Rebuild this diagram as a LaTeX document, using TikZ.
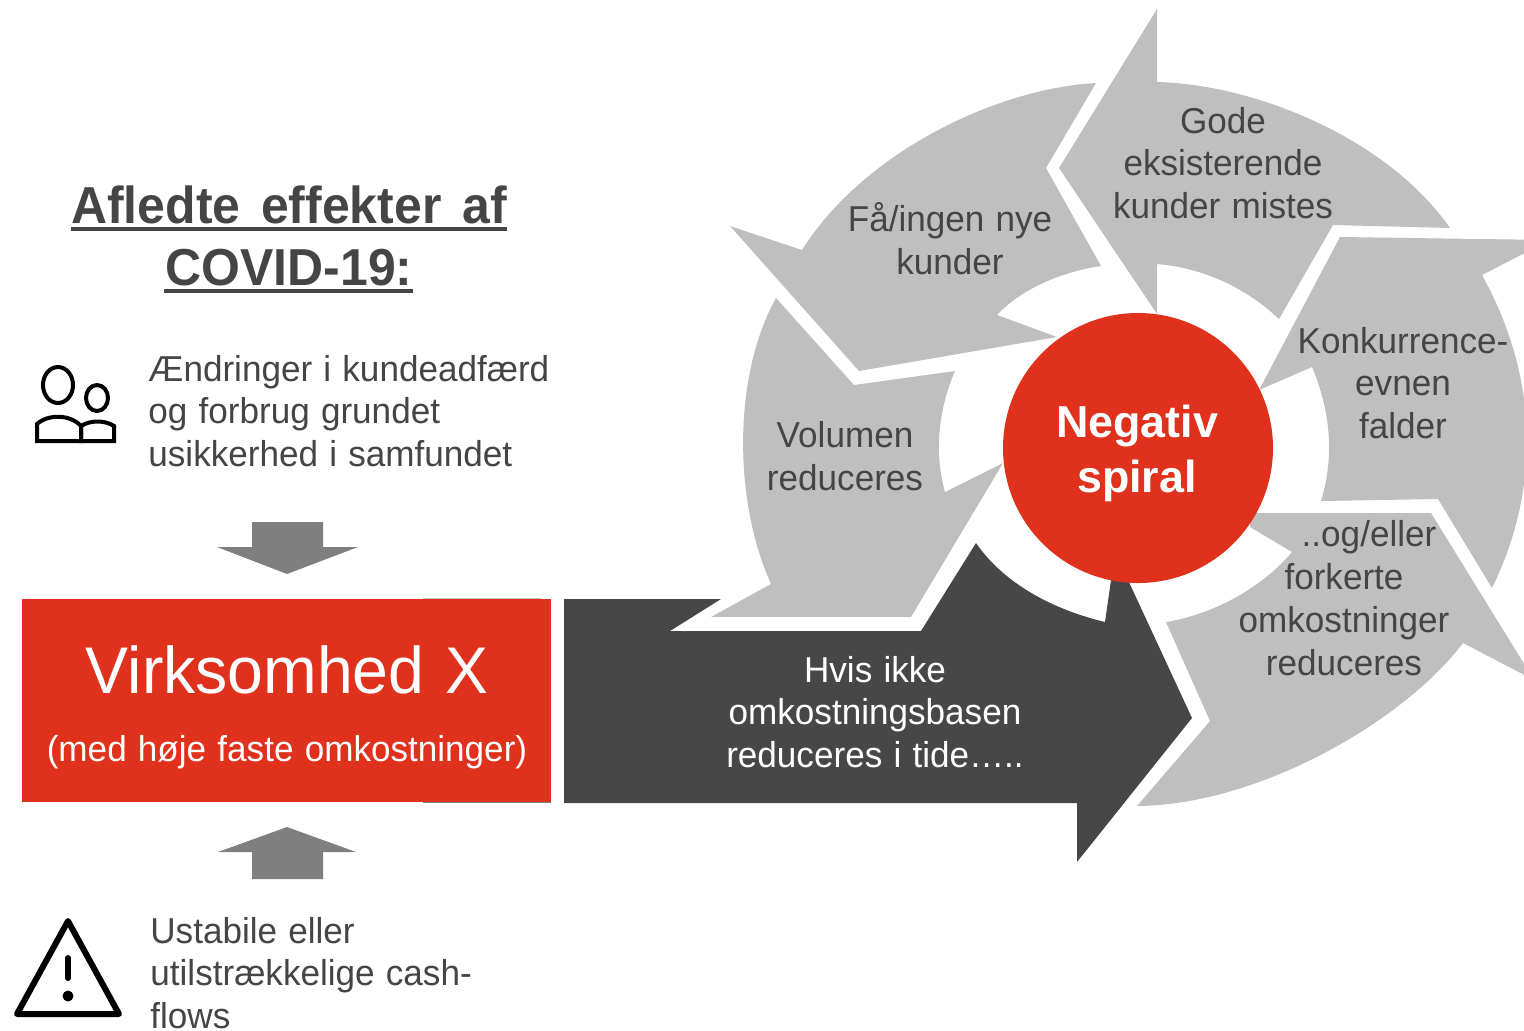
\documentclass[tikz,border=0pt]{standalone}
\usepackage{fontspec}
\setmainfont[FakeStretch=0.975,WordSpace=1.15]{Liberation Sans}
\newfontfamily\titlefont[FakeStretch=0.96,WordSpace=1.5]{Liberation Sans Bold}
\newfontfamily\spiralfont{Liberation Sans Bold}
\definecolor{sgray}{HTML}{BFBFBF}
\definecolor{sdark}{HTML}{474747}
\definecolor{sred}{HTML}{E0311C}
\definecolor{smid}{HTML}{7F7F7F}
\definecolor{stxt}{HTML}{454545}
\tikzset{
  seg/.style={fill=sgray,draw=none},
  small/.style={fill=smid,draw=none},
  lbl/.style={text=stxt,align=center,inner sep=0pt,font=\fontsize{18}{21.4}\selectfont},
  lleft/.style={text=stxt,align=left,inner sep=0pt,anchor=west,font=\fontsize{18}{21.4}\selectfont},
  ico/.style={draw=black,line width=2pt,fill=none},
  uline/.style={draw=stxt,line width=2pt}
}
\begin{document}
\begin{tikzpicture}[x=0.5pt,y=-0.5pt]
\useasboundingbox (0,0) rectangle (1524,1030);
\begin{scope}
\clip (0,0) rectangle (1524,1030);
% Gode
\path[seg] (1157,9) -- (1157,82) .. controls (1250,84) and (1385,135) .. (1450,228) -- (1333,225) -- (1279,319) .. controls (1245,287) and (1203,268) .. (1157,264) -- (1157,314) -- (1059,168) -- cycle;
% Faa
\path[seg] (1096,83) .. controls (1000,88) and (865,150) .. (802,250) -- (730,226) -- (859,371) -- (1057,337) -- (997,315) .. controls (1020,290) and (1060,272) .. (1101,266) -- (1046,168) -- cycle;
% Konkurrence
\path[seg] (1340,237) -- (1550,240) -- (1482,275) .. controls (1540,380) and (1540,490) .. (1492,588) -- (1438,499) -- (1321,501) .. controls (1335,455) and (1330,410) .. (1312,367) -- (1259,390) -- cycle;
% Og
\path[seg] (1250,513) -- (1431,513) -- (1534,680) -- (1463,643) .. controls (1405,720) and (1260,805) .. (1137,806) -- (1210,721) -- (1166,622) .. controls (1210,615) and (1260,590) .. (1292,552) -- (1250,527) -- cycle;
% Volumen
\path[seg] (776,298) -- (854,385) -- (955,371) .. controls (940,405) and (933,450) .. (945,492) -- (1003,463) -- (911,617) -- (711,617) -- (771,584) .. controls (733,500) and (733,375) .. (776,298) -- cycle;
% dark
\path[fill=sdark] (564,599) -- (721,599) -- (670,631) -- (921,631) -- (976,543) .. controls (1005,585) and (1055,610) .. (1105,622) -- (1111,580) -- (1128,580) -- (1192,718) -- (1077,862) -- (1077,803) -- (564,803) -- cycle;
\end{scope}
\node[circle,fill=sred,minimum size=135pt,inner sep=0pt] (spiral) at (1138,448) {};
\node[text=white,align=center,inner sep=0pt,font=\spiralfont\fontsize{22.4}{27.5}\selectfont] (spiraltxt) at (1137,453) {Negativ\\spiral};
\node[lbl] (gode) at (1223,163) {Gode\\eksisterende\\kunder mistes};
\node[lbl] (faa) at (950,239) {Få/ingen nye\\kunder};
\node[lbl] (konk) at (1403,383) {Konkurrence-\\evnen\\falder};
\node[lbl] (og) at (1344,598) {\hspace*{25pt}..og/eller\\forkerte\\omkostninger\\reduceres};
\node[lbl] (vol) at (845,456) {Volumen\\reduceres};
\node[lbl,text=white] (hvis) at (875,712) {Hvis ikke\\omkostningsbasen\\reduceres i tide…..};
% left
\node[text=stxt,align=center,inner sep=0pt,font=\titlefont\fontsize{26}{31}\selectfont] (title) at (289,236) {Afledte effekter af\\COVID-19:};
\draw[uline] (71,229) -- (507,229);
\draw[uline] (164,291) -- (413,291);
\node[lleft] (t1) at (148,411) {Ændringer i kundeadfærd\\og forbrug grundet\\usikkerhed i samfundet};
\node[lleft] (t2) at (150,973) {Ustabile eller\\utilstrækkelige cash-\\flows};
\path[small] (252,522) -- (323,522) -- (323,547) -- (358,547) -- (287,574) -- (217,547) -- (252,547) -- cycle;
\path[small] (252,879) -- (323,879) -- (323,852) -- (356,852) -- (287,827) -- (218,852) -- (252,852) -- cycle;
\node[fill=sred,minimum width=264.5pt,minimum height=101.5pt,inner sep=0pt] (box) at (286.5,700.5) {};
\draw[smid,line width=0.7pt] (423,802.6) -- (551,802.6);
\draw[sgray,line width=0.4pt] (423,598.4) -- (541,598.4);
\node[text=white,inner sep=0pt,font=\fontsize{33}{38}\selectfont] (virk) at (287,670) {Virksomhed X};
\node[text=white,inner sep=0pt,font=\fontsize{18}{21}\selectfont] (med) at (287,752) {(med høje faste omkostninger)};
% people icon
\draw[ico] (58,385) ellipse [x radius=15,y radius=18];
\draw[ico] (97,398) ellipse [x radius=11,y radius=13];
\draw[ico,line join=miter] (37,441) -- (37,424) .. controls (48,414) and (70,414) .. (81,426) -- (81,441) -- cycle;
\draw[ico,line join=miter] (81,441) -- (81,426) .. controls (90,420) and (105,420) .. (114,426) -- (114,441) -- cycle;
% warning icon
\draw[ico,line width=3pt,line join=round] (68,921) -- (119,1014) -- (17,1014) -- cycle;
\draw[black,line width=3pt,line cap=round] (68,958) -- (68,978);
\fill[black] (68,996) circle [radius=5.5];
\end{tikzpicture}
\end{document}
